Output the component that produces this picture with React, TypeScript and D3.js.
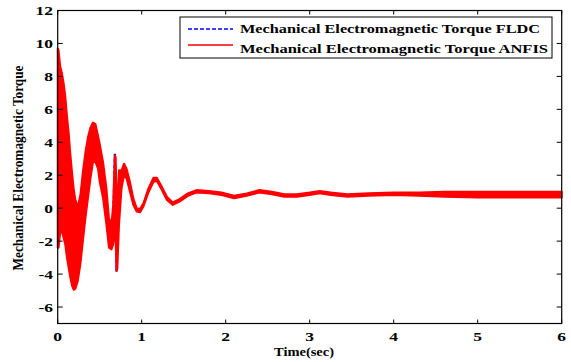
import React from "react";
import * as d3 from "d3";

// time samples (sec)
const time = [
  0, 0.01, 0.03, 0.05, 0.07, 0.09, 0.11, 0.13, 0.15, 0.17, 0.19, 0.21, 0.24, 0.27, 0.3, 0.33, 0.36, 0.39,
  0.42, 0.45, 0.48, 0.5, 0.54, 0.58, 0.61, 0.64, 0.66, 0.68, 0.69, 0.7, 0.71, 0.73, 0.76, 0.79, 0.82,
  0.86, 0.9, 0.94, 0.98, 1.02, 1.08, 1.14, 1.18, 1.23, 1.3, 1.37, 1.45, 1.55, 1.65, 1.8, 1.95, 2.1,
  2.25, 2.4, 2.55, 2.7, 2.85, 3.0, 3.12, 3.25, 3.45, 3.7, 4.0, 4.3, 4.6, 5.0, 5.5, 6.0,
];

// ANFIS torque: upper / lower envelope of the fast ripple
const anfisUpper = [
  9.7, 9.6, 8.6, 8.2, 7.6, 6.8, 5.6, 4.6, 3.3, 2.2, 1.2, 0.5, 0.1, 0.8, 2.2, 3.4, 4.3, 4.9,
  5.2, 5.1, 4.4, 3.9, 2.8, 1.2, -0.6, -1.0, 0.2, 3.2, 3.1, 1.0, 0.0, 2.3, 2.3, 2.7, 2.4,
  1.6, 0.6, 0.0, -0.05, 0.3, 1.2, 1.85, 1.85, 1.4, 0.7, 0.35, 0.55, 0.9, 1.1, 1.05, 0.95, 0.75,
  0.9, 1.1, 1.0, 0.85, 0.85, 0.95, 1.05, 0.95, 0.85, 0.9, 0.95, 0.95, 1.0, 1.0, 1.0, 1.0,
];
const anfisLower = [
  -2.4, -2.4, -1.5, -1.4, -1.8, -2.2, -3.0, -3.6, -4.2, -4.7, -4.95, -4.9, -4.4, -3.4, -2.0, -0.6, 0.6, 1.8,
  2.8, 2.8, 2.4, 1.6, 0.6, -1.0, -2.4, -2.5, -2.2, -1.5, -2.0, -3.8, -3.7, -1.0, 1.2, 2.0, 1.8,
  1.0, 0.2, -0.2, -0.25, 0.1, 0.95, 1.6, 1.65, 1.2, 0.5, 0.2, 0.4, 0.75, 0.95, 0.9, 0.8, 0.6,
  0.75, 0.95, 0.85, 0.7, 0.7, 0.8, 0.9, 0.8, 0.7, 0.75, 0.8, 0.75, 0.7, 0.65, 0.65, 0.65,
];

// FLDC torque (mostly hidden under ANFIS)
const fldc = [
  3.6, 3.5, 3.5, 3.4, 2.9, 2.3, 1.3, 0.5, -0.5, -1.2, -1.9, -2.2, -2.1, -1.3, 0.1, 1.4, 2.5, 3.4,
  4.0, 3.9, 3.4, 2.7, 1.7, 0.1, -1.5, -1.8, -1.0, 3.3, 0.5, -3.85, -1.8, 0.6, 1.8, 2.4, 2.1,
  1.3, 0.35, -0.15, -0.2, 0.2, 1.05, 1.7, 1.75, 1.3, 0.55, 0.25, 0.45, 0.8, 1.02, 0.97, 0.85, 0.65,
  0.8, 1.05, 0.92, 0.77, 0.77, 0.88, 0.98, 0.87, 0.77, 0.82, 0.87, 0.85, 0.85, 0.83, 0.83, 0.83,
];

const xTicks = [0, 1, 2, 3, 4, 5, 6];
const yTicks = [-6, -4, -2, 0, 2, 4, 6, 8, 10, 12];
const legendLabels = ["Mechanical Electromagnetic Torque FLDC", "Mechanical Electromagnetic Torque ANFIS"];

export default function App() {
  const width = 571;
  const height = 362;
  const left = 57.7;
  const right = 561.7;
  const top = 10.5;
  const bottom = 323.5;

  const x = d3.scaleLinear().domain([0, 6]).range([left, right]);
  const y = d3.scaleLinear().domain([-7, 12]).range([bottom, top]);

  const idx = time.map((_, i) => i);
  const band = d3
    .area<number>()
    .x((i) => x(time[i]))
    .y0((i) => y(anfisLower[i]))
    .y1((i) => y(anfisUpper[i]));
  const blueLine = d3
    .line<number>()
    .x((i) => x(time[i]))
    .y((i) => y(fldc[i]));

  const font = "'Liberation Serif', 'Times New Roman', serif";

  return (
    <svg
      width={width}
      height={height}
      style={{ position: "absolute", left: 0, top: 0, background: "#fff" }}
      fontFamily={font}
      fontWeight="bold"
    >
      <rect x={0} y={0} width={width} height={height} fill="#fff" />
      <path d={blueLine(idx) || ""} fill="none" stroke="#0000ff" strokeWidth={2.2} strokeDasharray="4,2" />
      <path d={band(idx) || ""} fill="#ff0000" stroke="#ff0000" strokeWidth={2} strokeLinejoin="round" />

      {/* axes box */}
      <rect x={left} y={top} width={right - left} height={bottom - top} fill="none" stroke="#000" strokeWidth={1.2} />
      {xTicks.map((t) => (
        <g key={"x" + t}>
          <line x1={x(t)} x2={x(t)} y1={bottom} y2={bottom - 4} stroke="#000" />
          <line x1={x(t)} x2={x(t)} y1={top} y2={top + 4} stroke="#000" />
          <text transform={`translate(${x(t)},341) scale(1.4,1)`} textAnchor="middle" fontSize={12.5}>
            {t}
          </text>
        </g>
      ))}
      {yTicks.map((t) => (
        <g key={"y" + t}>
          <line x1={left} x2={left + 5} y1={y(t)} y2={y(t)} stroke="#000" />
          <line x1={right} x2={right - 5} y1={y(t)} y2={y(t)} stroke="#000" />
          <text transform={`translate(53,${y(t) + 4.5}) scale(1.4,1)`} textAnchor="end" fontSize={12.5}>
            {t}
          </text>
        </g>
      ))}

      <text x={304} y={356} textAnchor="middle" fontSize={13.5} textLength={60} lengthAdjust="spacingAndGlyphs">
        Time(sec)
      </text>
      <text
        transform="translate(23,168) rotate(-90) scale(1,1.15)"
        textAnchor="middle"
        fontSize={12}
        textLength={205}
        lengthAdjust="spacingAndGlyphs"
      >
        Mechanical Electromagnetic Torque
      </text>

      {/* legend */}
      <rect x={180} y={17} width={372} height={41} fill="#fff" stroke="#000" strokeWidth={1} />
      <line x1={188} x2={233} y1={29} y2={29} stroke="#0000ff" strokeWidth={1.5} strokeDasharray="4,2" />
      <line x1={188} x2={233} y1={45} y2={45} stroke="#ff0000" strokeWidth={1.5} />
      {legendLabels.map((l, i) => (
        <text key={l} x={240} y={33 + i * 20} fontSize={13.5} textLength={i === 0 ? 300 : 308} lengthAdjust="spacingAndGlyphs">
          {l}
        </text>
      ))}
    </svg>
  );
}
